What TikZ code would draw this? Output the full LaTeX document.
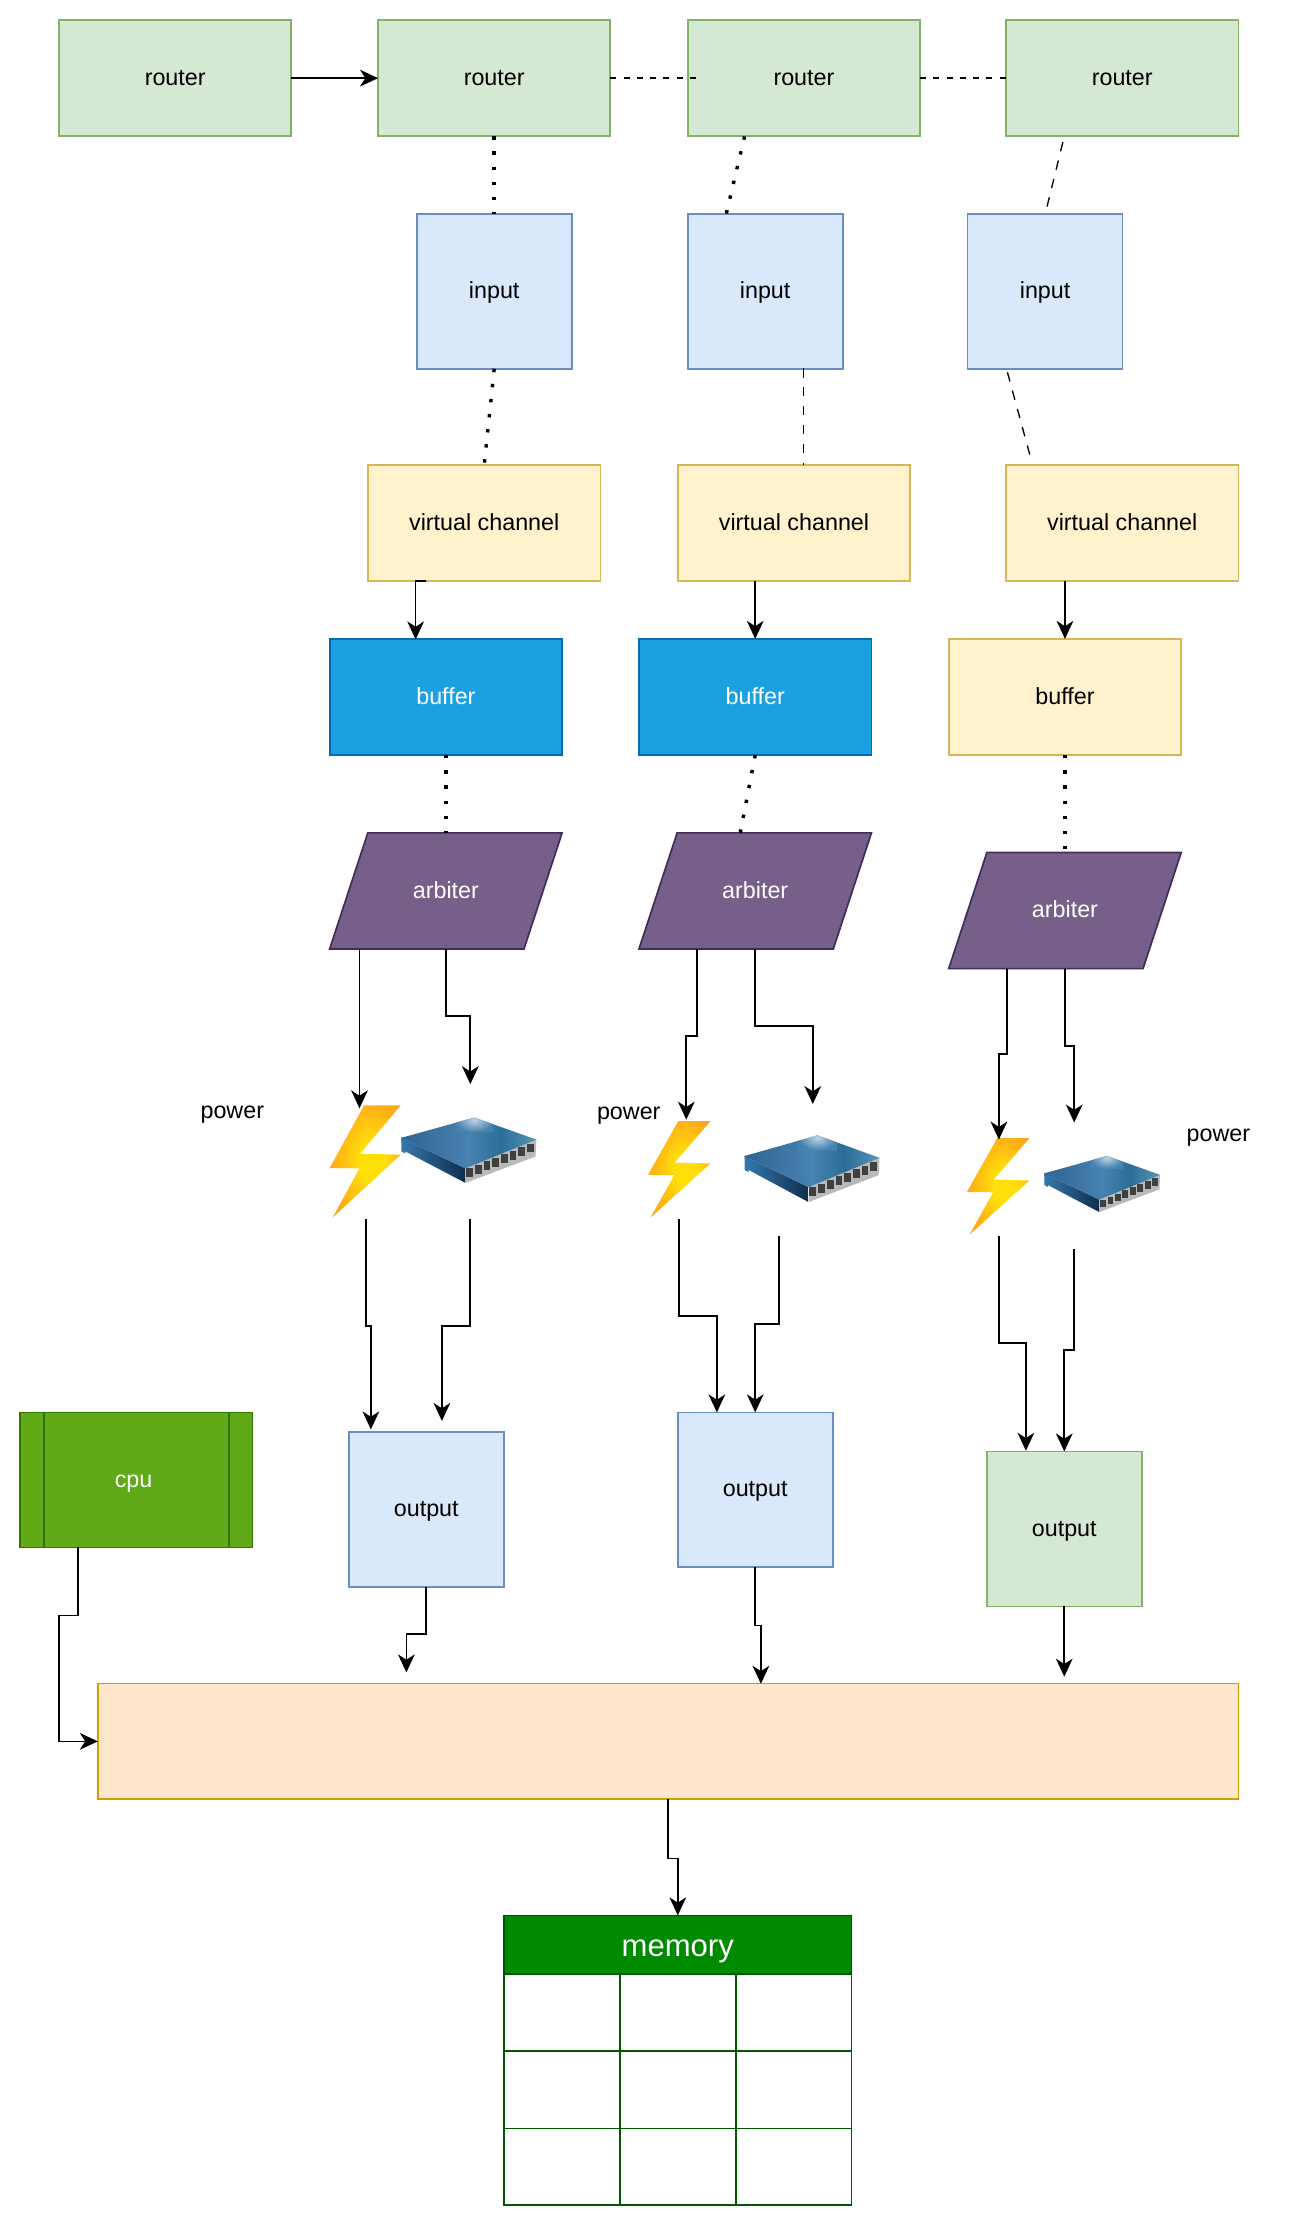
\documentclass[tikz,border=0pt]{standalone}
\usepackage{fontspec}
\setmainfont{Liberation Sans}
\usetikzlibrary{arrows.meta}
\usetikzlibrary{shapes.geometric}

\definecolor{boltCore}{RGB}{255,222,10}
\definecolor{boltMid}{RGB}{255,178,22}
\definecolor{boltEdge}{RGB}{250,152,28}
\pgfdeclareradialshading{boltglow}{\pgfpoint{6bp}{0bp}}{color(0bp)=(boltCore); color(9bp)=(boltCore); color(24bp)=(boltMid); color(40bp)=(boltEdge); color(50bp)=(boltEdge)}
\definecolor{swA}{RGB}{46,100,145}
\definecolor{swB}{RGB}{72,130,176}
\definecolor{swC}{RGB}{42,110,150}
\definecolor{swD}{RGB}{78,140,176}
\pgfdeclarehorizontalshading{swtop}{100bp}{color(0bp)=(swA); color(25bp)=(swA); color(50bp)=(swB); color(62bp)=(swC); color(72bp)=(swD); color(100bp)=(swD)}
\definecolor{swLa}{RGB}{52,120,170}
\definecolor{swLb}{RGB}{16,46,78}
\pgfdeclarehorizontalshading{swleft}{100bp}{color(0bp)=(swLa); color(25bp)=(swLa); color(75bp)=(swLb); color(100bp)=(swLb)}
\definecolor{swHi}{RGB}{190,212,228}
\pgfdeclareradialshading{swglow}{\pgfpoint{0bp}{0bp}}{color(0bp)=(swHi); color(25bp)=(swB); color(50bp)=(swB)}

\tikzset{
  boxtext/.style={font=\fontsize{12.3}{15}\selectfont,inner sep=0pt,outer sep=0pt,align=center,text height=9.5pt,text depth=2pt},
  wide/.style={boxtext,draw,line width=0.9pt,minimum width=122.6pt,minimum height=61.3pt},
  square/.style={boxtext,draw,line width=0.9pt,minimum width=81.8pt,minimum height=81.8pt},
  greenbox/.style={fill={rgb,255:red,213;green,232;blue,212},draw={rgb,255:red,130;green,179;blue,102}},
  bluebox/.style={fill={rgb,255:red,218;green,232;blue,252},draw={rgb,255:red,108;green,142;blue,191}},
  yellowbox/.style={fill={rgb,255:red,255;green,242;blue,204},draw={rgb,255:red,214;green,182;blue,86}},
  seabox/.style={fill={rgb,255:red,27;green,161;blue,226},draw={rgb,255:red,0;green,110;blue,175},text=white},
  arbiterbox/.style={boxtext,draw,line width=0.9pt,trapezium,trapezium left angle=71.8,trapezium right angle=108.2,text width=82.4pt,inner ysep=24.9pt,fill={rgb,255:red,118;green,96;blue,138},draw={rgb,255:red,67;green,45;blue,87},text=white},
  wire/.style={line width=0.9pt,-{Stealth[length=9.5pt,width=8.8pt,inset=2.8pt]}},
  bigdots/.style={line width=1.8pt,dash pattern=on 1.8pt off 6.2pt},
  shortdash/.style={line width=0.95pt,dash pattern=on 3.2pt off 3.8pt},
  thindash/.style={line width=0.7pt,dash pattern=on 5pt off 5pt},
}

\newcommand{\boltshape}[4]{%
  \begin{scope}[shift={(#1,#2)},xscale=#3,yscale=#4]
    \shade[shading=boltglow] (0.484,0) -- (1,0) -- (0.428,0.429) -- (1,0.438) -- (0.04,1) -- (0.42,0.56) -- (0,0.557) -- cycle;
  \end{scope}}
\newcommand{\switchshape}[4]{%
  \begin{scope}[shift={(#1,#2)},xscale=#3,yscale=#4]
    \fill[swLa] (0,0.3) -- (0.03,0.32) -- (0.03,0.55) -- (0,0.52) -- cycle;
    \shade[shading=swleft] (0,0.31) -- (0.474,0.777) -- (0.474,1) -- (0.0125,0.5) -- cycle;
    \fill[gray!55] (0.474,0.777) -- (1,0.337) -- (0.993,0.596) -- (0.474,1) -- cycle;
    \shade[shading=swtop] (0,0.31) -- (0.54,0) -- (1,0.337) -- (0.474,0.777) -- cycle;
    \begin{scope}
      \clip (0,0.31) -- (0.54,0) -- (1,0.337) -- (0.474,0.777) -- cycle;
      \shade[shading=swglow] (0.4,-0.15) rectangle (0.68,0.22);
    \end{scope}
    \foreach \i in {0,...,7}
      \fill[black!75] ({0.481+0.0643*\i},{0.778-0.0541*\i}) rectangle ++(0.05,0.135);
  \end{scope}}

\begin{document}
\begin{tikzpicture}[x=0.75pt,y=0.75pt,yscale=-1,xscale=1]
\useasboundingbox (0,0) rectangle (913.3,1568);

%Shape: Rectangle routers
\node[wide,greenbox] (routerA) at (123.3,55) {router};
\node[wide,greenbox] (routerB) at (347.8,55) {router};
\node[wide,greenbox] (routerC) at (565.8,55) {router};
\node[wide,greenbox] (routerD) at (789.8,55) {router};
%Shape: Rectangle inputs
\node[square,bluebox] (inputA) at (347.8,205) {input};
\node[square,bluebox] (inputB) at (538.5,205) {input};
\node[square,bluebox] (inputC) at (735.5,205) {input};
%Shape: Rectangle channels
\node[wide,yellowbox] (channelA) at (340.8,368) {virtual channel};
\node[wide,yellowbox] (channelB) at (558.8,368) {virtual channel};
\node[wide,yellowbox] (channelC) at (789.8,368) {virtual channel};
%Shape: Rectangle buffers
\node[wide,seabox] (bufferA) at (313.8,490.5) {buffer};
\node[wide,seabox] (bufferB) at (531.5,490.5) {buffer};
\node[wide,yellowbox] (bufferC) at (749.5,490.5) {buffer};
%Shape: Parallelogram arbiters
\node[arbiterbox] (arbiterA) at (313.8,627) {arbiter};
\node[arbiterbox] (arbiterB) at (531.5,627) {arbiter};
\node[arbiterbox] (arbiterC) at (749.5,640.8) {arbiter};
%Shape: Rectangle outputs
\node[square,bluebox] (outputA) at (300,1062.5) {output};
\node[square,bluebox] (outputB) at (531.5,1048.5) {output};
\node[square,greenbox] (outputC) at (749,1076) {output};
%Shape: Rectangle cpu
\node[wide,minimum height=71.3pt,fill={rgb,255:red,96;green,169;blue,23},draw={rgb,255:red,45;green,118;blue,0},text=white] (cpu) at (96,1041.5) {\hspace*{-3pt}cpu};
\draw [line width=0.9pt,draw={rgb,255:red,45;green,118;blue,0}] (31,994) -- (31,1089) (161,994) -- (161,1089);
%Shape: Rectangle bus
\node[boxtext,draw,line width=0.9pt,minimum width=602pt,minimum height=61pt,fill={rgb,255:red,255;green,230;blue,204},draw={rgb,255:red,215;green,155;blue,0}] (bus) at (470.2,1225.5) {};
%Shape: Table memory
\node[boxtext,draw,line width=0.9pt,minimum width=183.5pt,minimum height=153pt,fill=white,draw={rgb,255:red,0;green,87;blue,0}] (memoryBody) at (477,1450) {};
\node[boxtext,font=\fontsize{16.4}{20}\selectfont,text height=15pt,text depth=2.6pt,draw,line width=0.9pt,minimum width=183.5pt,minimum height=30.8pt,fill={rgb,255:red,0;green,138;blue,0},draw={rgb,255:red,0;green,87;blue,0},text=white] (memoryHead) at (477,1368.5) {memory};
\draw [line width=0.9pt,draw={rgb,255:red,0;green,87;blue,0}] (436.5,1389) -- (436.5,1552) (518,1389) -- (518,1552) (355,1443.5) -- (599,1443.5) (355,1498) -- (599,1498);

%Icons
\boltshape{232}{778}{50}{79}
\switchshape{282.5}{786.5}{95}{46}
\boltshape{456}{789}{44}{68}
\switchshape{524}{799}{95}{47}
\boltshape{680.5}{801}{44}{68}
\switchshape{735}{813.5}{81.5}{39.5}

% Text Node
\node[boxtext] (powerA) at (163.5,782) {power};
\node[boxtext] (powerB) at (442.5,783) {power};
\node[boxtext] (powerC) at (857.5,798) {power};

% Free ends
\coordinate (routerCin) at (491,55);
\coordinate (routerCout) at (524,96);
\coordinate (inputBtop) at (511,151);
\coordinate (routerDout) at (748,100);
\coordinate (inputCtop) at (735.5,151);
\coordinate (inputBout) at (565.5,259);
\coordinate (channelBin) at (565.5,327);
\coordinate (inputCout) at (709,262);
\coordinate (channelCin) at (725,321);
\coordinate (channelAout) at (300,409);
\coordinate (bufferAin) at (292.5,450);
\coordinate (arbiterAin) at (313.8,586);
\coordinate (arbiterBin) at (521,586);
\coordinate (arbiterCin) at (749.5,600);
\coordinate (arbiterAl) at (253,668);
\coordinate (boltAin) at (253,780);
\coordinate (arbiterAr) at (313.8,668);
\coordinate (switchAin) at (331,763);
\coordinate (arbiterBl) at (490.5,668);
\coordinate (boltBin) at (483,788);
\coordinate (arbiterBr) at (531.5,668);
\coordinate (switchBin) at (572,777);
\coordinate (arbiterCl) at (708.5,682);
\coordinate (boltCin) at (703,802);
\coordinate (arbiterCr) at (749.5,682);
\coordinate (switchCin) at (756,790);
\coordinate (boltAout) at (257.5,858);
\coordinate (outputAl) at (261,1006);
\coordinate (switchAout) at (331,858);
\coordinate (outputAr) at (311,1000);
\coordinate (boltBout) at (478,858);
\coordinate (outputBl) at (504.5,994);
\coordinate (switchBout) at (548,870);
\coordinate (boltCout) at (703,870);
\coordinate (outputCl) at (722,1021);
\coordinate (switchCout) at (756,879);
\coordinate (busAin) at (286,1177);
\coordinate (busBin) at (535.5,1185);
\coordinate (busCin) at (749,1180);
\coordinate (cpuOut) at (55,1089);

%Straight Lines
\draw [wire] (routerA) -- (routerB);
\draw [shortdash] (routerB.east) -- (routerCin);
\draw [shortdash] (routerC.east) -- (routerD.west);
\draw [bigdots] (routerB.south) -- (inputA.north);
\draw [bigdots] (routerCout) -- (inputBtop);
\draw [thindash] (routerDout) -- (inputCtop);
\draw [bigdots] (inputA.south) -- (channelA.north);
\draw [thindash] (inputBout) -- (channelBin);
\draw [thindash] (inputCout) -- (channelCin);
\draw [wire] (channelAout) -| (bufferAin);
\draw [wire] (channelB.south -| bufferB) -- (bufferB.north);
\draw [wire] (channelC.south -| bufferC) -- (bufferC.north);
\draw [bigdots] (bufferA.south) -- (arbiterAin);
\draw [bigdots] (bufferB.south) -- (arbiterBin);
\draw [bigdots] (bufferC.south) -- (arbiterCin);
\draw [wire] (arbiterAl) -- (boltAin);
\draw [wire] (arbiterAr) |- (322,715) -| (switchAin);
\draw [wire] (arbiterBl) |- (487,729) -| (boltBin);
\draw [wire] (arbiterBr) |- (552,722) -| (switchBin);
\draw [wire] (arbiterCl) |- (706,742) -| (boltCin);
\draw [wire] (arbiterCr) |- (752,736) -| (switchCin);
\draw [wire] (boltAout) |- (259,933) -| (outputAl);
\draw [wire] (switchAout) |- (321,933) -| (outputAr);
\draw [wire] (boltBout) |- (491,926) -| (outputBl);
\draw [wire] (switchBout) |- (540,932) -| (outputB.north);
\draw [wire] (boltCout) |- (712,945) -| (outputCl);
\draw [wire] (switchCout) |- (752,950) -| (outputC.north);
\draw [wire] (outputA.south) |- (293,1150) -| (busAin);
\draw [wire] (outputB.south) |- (533,1144) -| (busBin);
\draw [wire] (outputC.south) -- (busCin);
\draw [wire] (cpuOut) |- (48,1137) -- (41.5,1137) |- (bus.west);
\draw [wire] (bus.south) |- (473,1308) -| (memoryHead.north);

\end{tikzpicture}
\end{document}
